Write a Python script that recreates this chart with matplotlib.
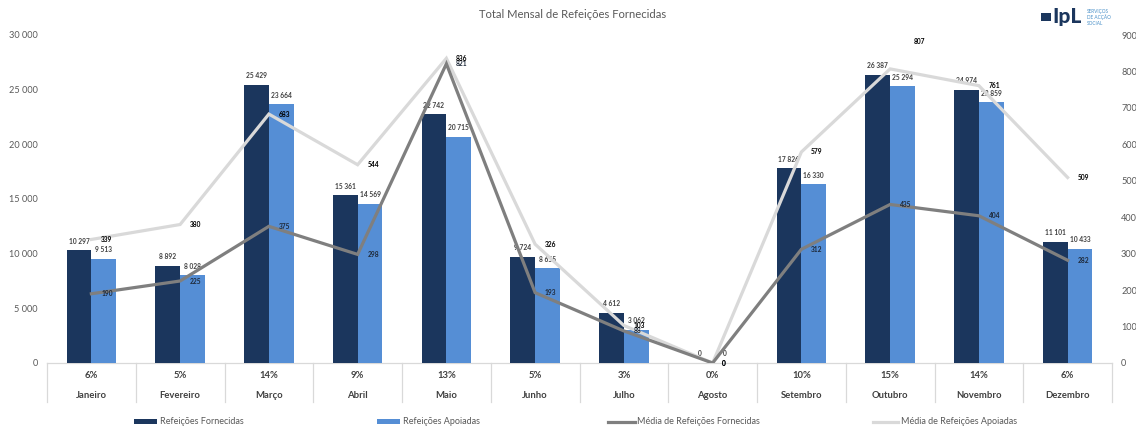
import matplotlib
matplotlib.use("Agg")
import matplotlib.pyplot as plt
import matplotlib.transforms as mtransforms
from matplotlib.patches import Patch, Rectangle
from matplotlib.lines import Line2D
import numpy as np

# ---------------- data ----------------
months = ["Janeiro", "Fevereiro", "Março", "Abril", "Maio", "Junho",
          "Julho", "Agosto", "Setembro", "Outubro", "Novembro", "Dezembro"]
percent_labels = ["6%", "5%", "14%", "9%", "13%", "5%",
                  "3%", "0%", "10%", "15%", "14%", "6%"]
fornecidas = [10297, 8892, 25429, 15361, 22742, 9724,
              4612, 0, 17826, 26387, 24974, 11101]
apoiadas = [9513, 8028, 23664, 14569, 20715, 8655,
            3062, 0, 16330, 25294, 23859, 10433]
media_fornecidas = [190, 225, 375, 298, 821, 193, 88, 0, 312, 435, 404, 282]
media_apoiadas = [339, 380, 683, 544, 836, 326, 103, 0, 579, 807, 761, 509]
left_ticks = [0, 5000, 10000, 15000, 20000, 25000, 30000]
right_ticks = [0, 100, 200, 300, 400, 500, 600, 700, 800, 900]

# ---------------- style ----------------
plt.rcParams['font.family'] = ['Lato', 'DejaVu Sans']
NAVY = '#1b365d'
BLUE = '#558ed5'
DGRAY = '#7f7f7f'
LGRAY = '#d9d9d9'
TXT = '#595959'
LAB = '#404040'

W, H = 1136, 432
fig = plt.figure(figsize=(W / 100, H / 100), dpi=100)
ax = fig.add_axes([47 / W, 1 - 363 / H, 1065 / W, 328 / H])
ax2 = ax.twinx()

x = np.arange(len(months))
bw = 0.28
ax.bar(x - bw / 2, fornecidas, bw, color=NAVY, zorder=2, linewidth=0)
ax.bar(x + bw / 2, apoiadas, bw, color=BLUE, zorder=2, linewidth=0)
ax.set_xlim(-0.5, len(months) - 0.5)
ax.set_ylim(0, 30000)
ax2.set_ylim(0, 900)

ax2.plot(x, media_apoiadas, color=LGRAY, lw=2.3, solid_joinstyle='miter', zorder=3)
ax2.plot(x, media_fornecidas, color=DGRAY, lw=2.3, solid_joinstyle='miter', zorder=4)

# ticks
def fmt(v):
    return f"{v:,}".replace(",", " ")

ax.set_yticks(left_ticks)
ax.set_yticklabels([fmt(v) for v in left_ticks])
ax2.set_yticks(right_ticks)
ax2.set_yticklabels([str(v) for v in right_ticks])
for a in (ax, ax2):
    a.tick_params(axis='y', length=0, pad=6.5, labelsize=6.6, colors=TXT)
    a.set_xticks([])
    for s in a.spines.values():
        s.set_visible(False)

# category axis table
trans = mtransforms.blended_transform_factory(ax.transData, ax.transAxes)
ax.plot([-0.5, len(months) - 0.5], [0, 0], transform=trans, color=LGRAY,
        lw=0.9, clip_on=False, zorder=1)
for b in np.arange(-0.5, len(months), 1.0):
    ax.plot([b, b], [0, -39 / 328], transform=trans, color=LGRAY, lw=0.9,
            clip_on=False)
for i in range(len(months)):
    ax.text(x[i], -13 / 328, percent_labels[i], transform=trans, ha='center',
            va='center', fontsize=6.8, fontweight='bold', color=LAB)
    ax.text(x[i], -32 / 328, months[i], transform=trans, ha='center',
            va='center', fontsize=6.8, fontweight='bold', color=LAB)

# bar labels
for i in range(len(months)):
    ax.annotate(fmt(fornecidas[i]), (x[i] - bw / 2, fornecidas[i]),
                xytext=(0, 6.5), textcoords='offset points', ha='center',
                va='center', fontsize=4.8, fontweight='bold', color=LAB, zorder=5)
    ax.annotate(fmt(apoiadas[i]), (x[i] + bw / 2, apoiadas[i]),
                xytext=(0, 6.5), textcoords='offset points', ha='center',
                va='center', fontsize=4.8, fontweight='bold', color=LAB, zorder=5)

# line labels
for i in range(len(months)):
    ax2.annotate(str(media_fornecidas[i]), (x[i], media_fornecidas[i]),
                 xytext=(7, 0), textcoords='offset points', ha='left',
                 va='center', fontsize=4.8, fontweight='bold', color='#1f2a3a', zorder=6)
    off = (17, 19.5) if i == 9 else (7, 0)
    ax2.annotate(str(media_apoiadas[i]), (x[i], media_apoiadas[i]),
                 xytext=off, textcoords='offset points', ha='left',
                 va='center', fontsize=4.8, fontweight='bold', color='black', zorder=6)

# title
fig.text(573 / W, 1 - 14 / H, "Total Mensal de Refeições Fornecidas", ha='center',
         va='center', fontsize=8.1, color=TXT)

# legends
ly = 1 - 422 / H
entries = [
    (134, Patch(facecolor=NAVY, edgecolor='none'), "Refeições Fornecidas", 2.6),
    (377, Patch(facecolor=BLUE, edgecolor='none'), "Refeições Apoiadas", 2.6),
    (608, Line2D([], [], color=DGRAY, lw=2.3), "Média de Refeições Fornecidas", 3.0),
    (873, Line2D([], [], color=LGRAY, lw=2.3), "Média de Refeições Apoiadas", 2.8),
]
for xp, h, lab, hl in entries:
    leg = fig.legend([h], [lab], loc='center left', bbox_to_anchor=(xp / W, ly),
                     frameon=False, fontsize=6.5, handlelength=hl, handleheight=0.55,
                     handletextpad=0.25, borderpad=0, borderaxespad=0)
    for t in leg.get_texts():
        t.set_color(TXT)

# logo
fig.patches.append(Rectangle((1041 / W, 1 - 21 / H), 10 / W, 8 / H,
                             transform=fig.transFigure, facecolor=NAVY,
                             edgecolor='none'))
fig.text(1052 / W, 1 - 17 / H, "IpL", ha='left', va='center', fontsize=15,
         fontweight='black', color=NAVY)
fig.text(1087 / W, 1 - 17.5 / H, "SERVIÇOS\nDE ACÇÃO\nSOCIAL", ha='left',
         va='center', fontsize=3.4, color='#4a90c8', linespacing=1.1)

fig.savefig("out.png", dpi=100)
